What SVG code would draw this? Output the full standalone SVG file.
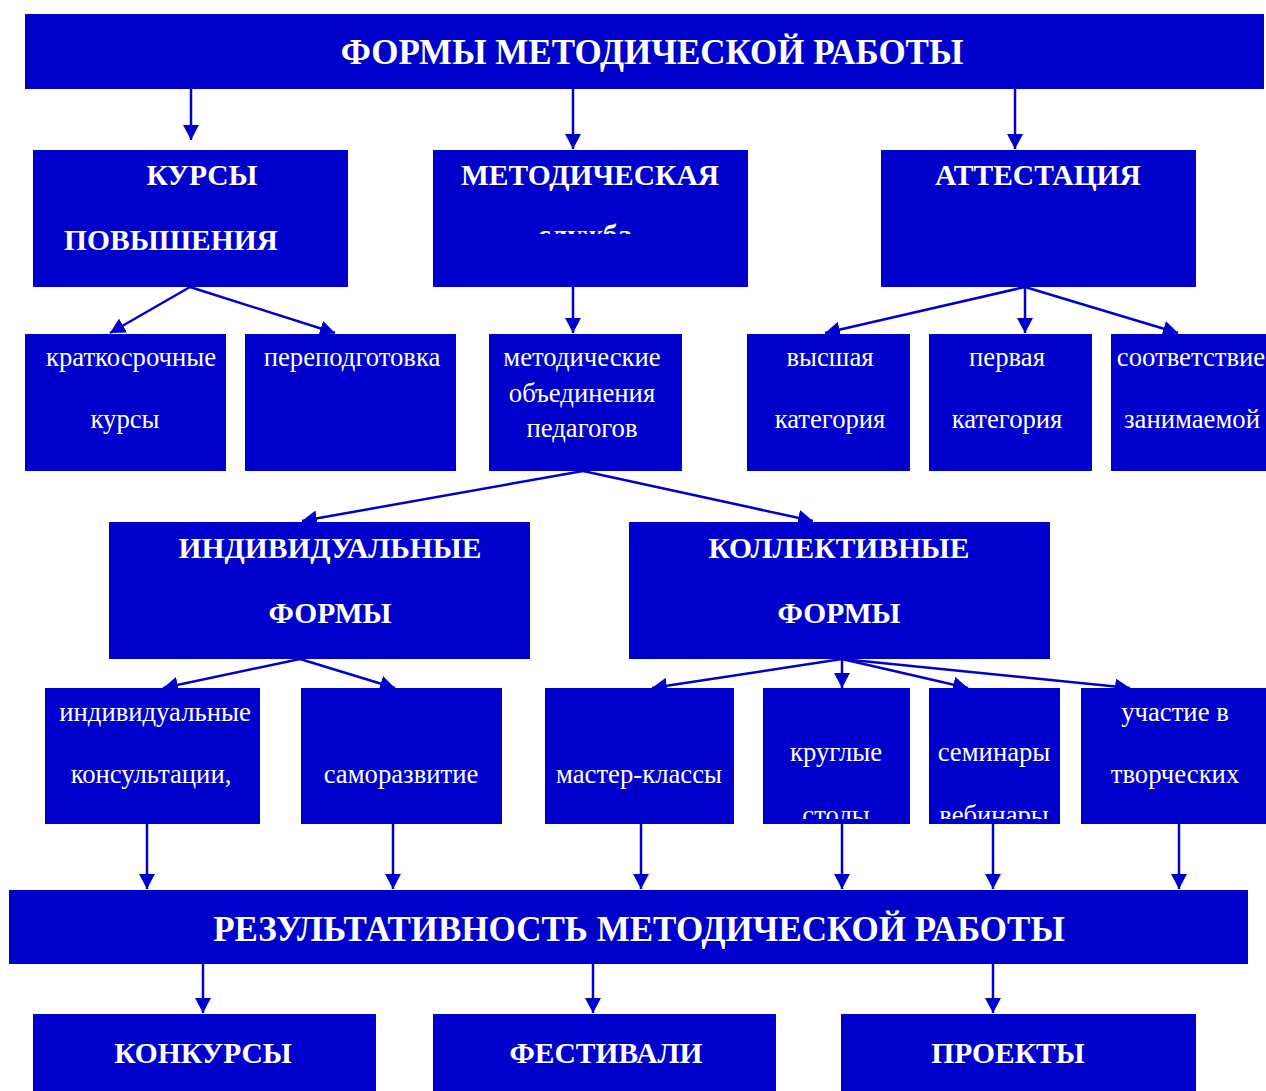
<svg xmlns="http://www.w3.org/2000/svg" width="1266" height="1091" viewBox="0 0 1266 1091">
<style>
.box{fill:#0000CC}
.h{font-family:"Liberation Serif","Times New Roman",serif;font-weight:bold;fill:#fff;text-anchor:middle}
.bar{font-size:35px}
.hd{font-size:29.5px}
.t{font-family:"Liberation Serif","Times New Roman",serif;font-size:26.7px;fill:#fff;text-anchor:middle}
.c line{stroke:#0000CC;stroke-width:2.5;marker-end:url(#ah)}
</style>
<defs>
<marker id="ah" markerUnits="userSpaceOnUse" markerWidth="15" markerHeight="16" refX="15" refY="8" orient="auto" viewBox="0 0 15 16">
<path d="M0,0 L15,8 L0,16 z" fill="#0000CC"/>
</marker>
<clipPath id="clipMet"><rect x="433" y="150" width="315" height="84"/></clipPath>
<clipPath id="clipKr"><rect x="763" y="688" width="147" height="131"/></clipPath>
<clipPath id="clipSem"><rect x="929" y="688" width="131" height="131"/></clipPath>
</defs>
<rect width="1266" height="1091" fill="#fff"/>

<g class="c" id="connectors">
<line x1="191" y1="89" x2="191" y2="140"/>
<line x1="573" y1="89" x2="573" y2="149"/>
<line x1="1015" y1="89" x2="1015" y2="149"/>
<line x1="190" y1="287" x2="110" y2="333"/>
<line x1="190" y1="287" x2="335" y2="333"/>
<line x1="573" y1="287" x2="573" y2="333"/>
<line x1="1025" y1="287" x2="825" y2="333"/>
<line x1="1025" y1="287" x2="1025" y2="333"/>
<line x1="1025" y1="287" x2="1178" y2="333"/>
<line x1="583" y1="471" x2="302" y2="521"/>
<line x1="583" y1="471" x2="813" y2="521"/>
<line x1="300" y1="659" x2="163" y2="688"/>
<line x1="300" y1="659" x2="395" y2="688"/>
<line x1="842" y1="659" x2="652" y2="688"/>
<line x1="842" y1="659" x2="842" y2="688"/>
<line x1="842" y1="659" x2="968" y2="688"/>
<line x1="842" y1="659" x2="1130" y2="688"/>
<line x1="147" y1="824" x2="147" y2="889"/>
<line x1="393" y1="824" x2="393" y2="889"/>
<line x1="641" y1="824" x2="641" y2="889"/>
<line x1="842" y1="824" x2="842" y2="889"/>
<line x1="993" y1="824" x2="993" y2="889"/>
<line x1="1179" y1="824" x2="1179" y2="889"/>
<line x1="203" y1="964" x2="203" y2="1013"/>
<line x1="593" y1="964" x2="593" y2="1013"/>
<line x1="993" y1="964" x2="993" y2="1013"/>
</g>

<g id="top"><rect class="box" x="25" y="14" width="1239" height="75"/><text class="h bar" x="652" y="64">ФОРМЫ МЕТОДИЧЕСКОЙ РАБОТЫ</text></g>

<g id="kursy"><rect class="box" x="33" y="150" width="315" height="137"/><text class="h hd" x="202" y="185">КУРСЫ</text><text class="h hd" x="171" y="250">ПОВЫШЕНИЯ</text></g>
<g id="metod"><rect class="box" x="433" y="150" width="315" height="137"/><text class="h hd" x="590" y="185">МЕТОДИЧЕСКАЯ</text><text class="h hd" x="585" y="245" clip-path="url(#clipMet)">служба</text></g>
<g id="attest"><rect class="box" x="881" y="150" width="315" height="137"/><text class="h hd" x="1038" y="185">АТТЕСТАЦИЯ</text></g>

<g id="kratko"><rect class="box" x="25" y="334" width="201" height="137"/><text class="t" x="131" y="366">краткосрочные</text><text class="t" x="125" y="428">курсы</text></g>
<g id="perepod"><rect class="box" x="245" y="334" width="211" height="137"/><text class="t" x="352" y="366">переподготовка</text></g>
<g id="mo"><rect class="box" x="489" y="334" width="193" height="137"/><text class="t" x="582" y="366">методические</text><text class="t" x="582" y="402">объединения</text><text class="t" x="582" y="437">педагогов</text></g>
<g id="vysh"><rect class="box" x="747" y="334" width="163" height="137"/><text class="t" x="830" y="366">высшая</text><text class="t" x="830" y="428">категория</text></g>
<g id="perv"><rect class="box" x="929" y="334" width="163" height="137"/><text class="t" x="1007" y="366">первая</text><text class="t" x="1007" y="428">категория</text></g>
<g id="sootv"><rect class="box" x="1111" y="334" width="155" height="137"/><text class="t" x="1191" y="366">соответствие</text><text class="t" x="1192" y="428">занимаемой</text></g>

<g id="indiv"><rect class="box" x="109" y="522" width="421" height="137"/><text class="h hd" x="330" y="558">ИНДИВИДУАЛЬНЫЕ</text><text class="h hd" x="330" y="623">ФОРМЫ</text></g>
<g id="koll"><rect class="box" x="629" y="522" width="421" height="137"/><text class="h hd" x="839" y="558">КОЛЛЕКТИВНЫЕ</text><text class="h hd" x="839" y="623">ФОРМЫ</text></g>

<g id="konsult"><rect class="box" x="45" y="688" width="215" height="136"/><text class="t" x="155" y="721">индивидуальные</text><text class="t" x="151" y="783">консультации,</text></g>
<g id="samo"><rect class="box" x="301" y="688" width="201" height="136"/><text class="t" x="401" y="783">саморазвитие</text></g>
<g id="master"><rect class="box" x="545" y="688" width="189" height="136"/><text class="t" x="639" y="783">мастер-классы</text></g>
<g id="krugl"><rect class="box" x="763" y="688" width="147" height="136"/><text class="t" x="836" y="761">круглые</text><text class="t" x="836" y="824" clip-path="url(#clipKr)">столы</text></g>
<g id="semin"><rect class="box" x="929" y="688" width="131" height="136"/><text class="t" x="994" y="761">семинары</text><text class="t" x="994" y="824" clip-path="url(#clipSem)">вебинары</text></g>
<g id="uchast"><rect class="box" x="1081" y="688" width="185" height="136"/><text class="t" x="1175" y="721">участие в</text><text class="t" x="1175" y="783">творческих</text></g>

<g id="result"><rect class="box" x="9" y="890" width="1239" height="74"/><text class="h bar" x="639" y="941">РЕЗУЛЬТАТИВНОСТЬ МЕТОДИЧЕСКОЙ РАБОТЫ</text></g>

<g id="konk"><rect class="box" x="33" y="1014" width="343" height="77"/><text class="h hd" x="203" y="1063">КОНКУРСЫ</text></g>
<g id="fest"><rect class="box" x="433" y="1014" width="343" height="77"/><text class="h hd" x="606" y="1063">ФЕСТИВАЛИ</text></g>
<g id="proekt"><rect class="box" x="841" y="1014" width="355" height="77"/><text class="h hd" x="1008" y="1063">ПРОЕКТЫ</text></g>
</svg>
